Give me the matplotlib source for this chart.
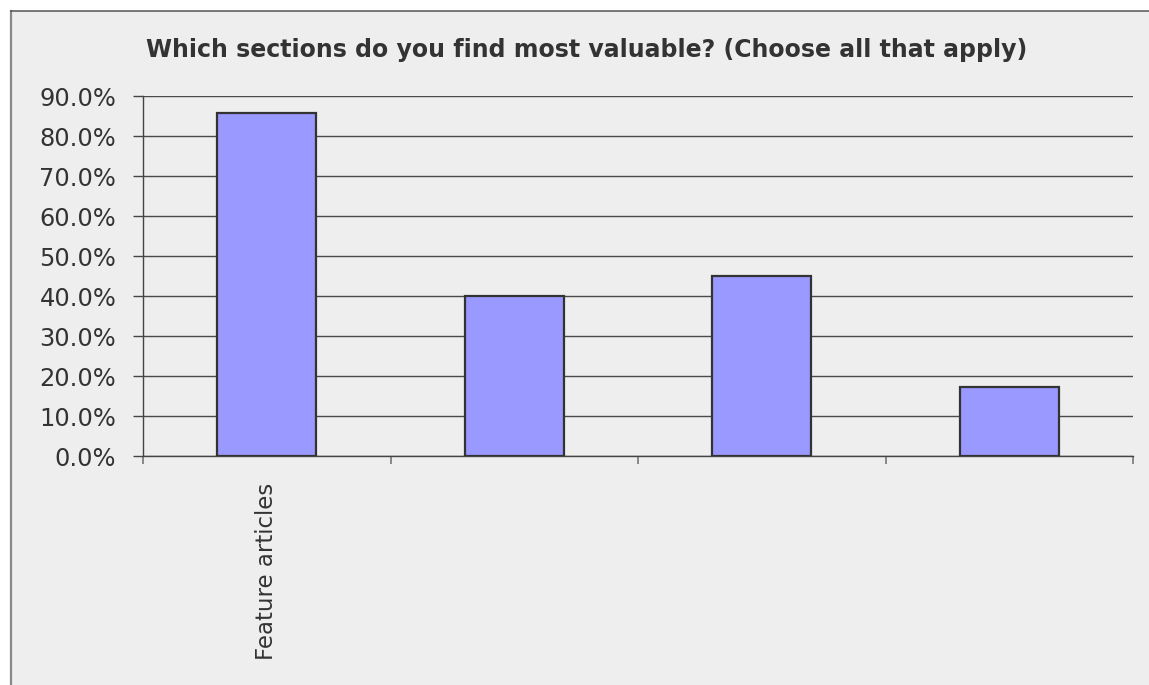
import numpy as np
import matplotlib
matplotlib.use("Agg")
import matplotlib.pyplot as plt
from matplotlib.patches import Rectangle
from matplotlib.lines import Line2D
from matplotlib.ticker import FixedLocator

plt.rcParams["font.family"] = ["DejaVu Sans"]

# survey results (share of respondents)
categories = ["Feature articles", "", "", ""]
values = [85.7, 40.0, 45.0, 17.3]
y_ticks = [0, 10, 20, 30, 40, 50, 60, 70, 80, 90]
title = "Which sections do you find most valuable? (Choose all that apply)"

W, H = 1149, 685
fig = plt.figure(figsize=(W / 100, H / 100), dpi=100, facecolor="white")

# chart area, framed in grey on the left and top edges only
left, top = 10.5 / W, 1 - 10.5 / H
fig.patches.append(Rectangle((left, -0.1), 1.2, top + 0.1, transform=fig.transFigure,
                             facecolor="#eeeeee", edgecolor="none", zorder=-5))
fig.lines.append(Line2D([left, left], [-0.1, top], transform=fig.transFigure,
                        color="#888888", linewidth=1.6, zorder=-4))
fig.lines.append(Line2D([left, 1.1], [top, top], transform=fig.transFigure,
                        color="#555555", linewidth=1.1, zorder=-4))

ax = fig.add_axes([143 / W, 1 - 456 / H, (1133 - 143) / W, (456 - 96) / H])
ax.set_facecolor("none")

x = np.arange(len(values))
ax.bar(x, values, width=0.4, color="#9999ff", edgecolor="#333333",
       linewidth=1.6, zorder=3)

ax.set_xlim(-0.5, len(values) - 0.5)
ax.set_ylim(0, 90)
ax.set_yticks(y_ticks)
ax.set_yticklabels([f"{v:.1f}%" for v in y_ticks])
ax.yaxis.grid(True, color="#4a4a4a", linewidth=1.0, zorder=1)
ax.tick_params(axis="y", length=7.2, width=1, color="#444444", labelsize=17.4,
               labelcolor="#333333", pad=12)

ax.set_xticks(x)
ax.set_xticklabels(categories, rotation=90, fontsize=16.5, color="#333333")
ax.tick_params(axis="x", length=0, pad=19.5)
ax.xaxis.set_minor_locator(FixedLocator(np.arange(-0.5, len(values), 1.0)))
ax.tick_params(axis="x", which="minor", length=6, width=1.2, color="#777777")

for side in ["top", "right"]:
    ax.spines[side].set_visible(False)
for side in ["left", "bottom"]:
    ax.spines[side].set_color("#444444")
    ax.spines[side].set_linewidth(1.0)

fig.text(0.5 * (147 + 1026) / W, 1 - 50 / H, title, ha="center", va="center",
         fontsize=17, fontweight="bold", color="#333333")

fig.savefig("out.png", dpi=100, facecolor="white")
